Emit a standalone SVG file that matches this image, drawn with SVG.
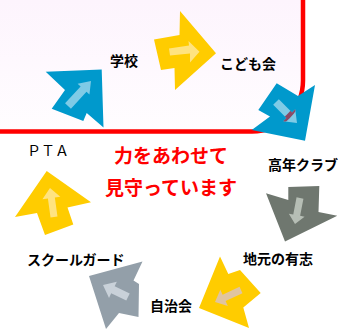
<svg xmlns="http://www.w3.org/2000/svg" width="338" height="329" viewBox="0 0 338 329">
<defs>
<linearGradient id="bg" x1="0" y1="0" x2="0" y2="1">
<stop offset="0" stop-color="#fdf4fd"/>
<stop offset="1" stop-color="#fffdff"/>
</linearGradient>
<clipPath id="innerClip">
<polygon points="273.17,104.83 286.39,118.05 283.21,121.23 297,123 295.23,109.21 292.05,112.39 278.83,99.17"/>
</clipPath>
<style>
.lbl{font-family:"Noto Sans CJK JP","Noto Sans",sans-serif;font-size:14px;font-weight:bold;fill:#000}
.msg{font-family:"Noto Sans CJK JP","Noto Sans",sans-serif;font-size:19px;font-weight:bold;fill:#ff0000}
.frame{fill:none;stroke:#ff0000;stroke-width:4.5}
.blue{fill:#0099cc}.blueIn{fill:#7fcbe6}
.yel{fill:#ffcc00}.yelIn{fill:#ffe380}
.gg{fill:#6f776f}.ggIn{fill:#b6beb5}
.tan{fill:#e0c4a0}
.gb{fill:#939fa9}.gbIn{fill:#c9d1d9}
</style>
</defs>
<rect width="338" height="329" fill="#ffffff"/>
<path d="M0,0 H303 V80.5 A51,51 0 0 1 252,131.5 H0 Z" fill="url(#bg)"/>
<path class="frame" d="M0,131.5 H252 A51,51 0 0 0 303,80.5 V0"/>

<g id="connectors">
<g id="arrow-pta-school">
<polygon class="blue" points="45.7,71.7 101.7,69.5 103.5,127.5 86.7,113 83.3,121 51.7,108.8 65,90"/>
<polygon class="blueIn" points="70.94,108.71 86.49,91.81 89.44,94.52 91,81 77.66,83.68 80.61,86.39 65.06,103.29"/>
</g>
<g id="arrow-school-kodomo">
<polygon class="yel" points="154,39.5 179.5,35 180,11 216,53.3 175,90 174.5,68 161,70"/>
<polygon class="yelIn" points="169,48.5 189,45.5 188.5,41 199.5,51.7 190,62.5 190,53.5 170,55.5"/>
</g>
<g id="arrow-kodomo-kounen">
<polygon class="blue" points="276.7,83.3 298,96 315,85 305,140.7 251.7,130 270,116.5 258.3,110"/>
<polygon class="blueIn" points="273.17,104.83 286.39,118.05 283.21,121.23 297,123 295.23,109.21 292.05,112.39 278.83,99.17"/>
<path d="M252,131.5 A51,51 0 0 0 303,80.5" fill="none" stroke="#8a4a66" stroke-width="4.5" clip-path="url(#innerClip)"/>
</g>
<g id="arrow-kounen-jimoto">
<polygon class="gg" points="288.3,187 319.3,186 318.5,212 337.3,215.7 285,241.5 266,193.3 288.3,200"/>
<polygon class="ggIn" points="296.56,197.34 293.26,214.5 288.84,213.65 295,224 304.56,216.67 300.14,215.82 303.44,198.66"/>
</g>
<g id="arrow-jimoto-jichikai">
<polygon class="yel" points="220,256.5 228.3,274 240,270 260.7,293 243.3,307.5 249,328 199,308"/>
<polygon class="tan" points="239.53,286.82 222.61,294.63 220.31,289.64 215,302 227.85,305.98 225.55,300.99 242.47,293.18"/>
</g>
<g id="arrow-jichikai-guard">
<polygon class="gb" points="89,276 142.5,261.5 133.5,280.5 139,284 138.5,317 119,313 106,329"/>
<polygon class="gbIn" points="129.73,293.39 114.65,286.15 116.82,281.64 103,285 109.02,297.88 111.19,293.37 126.27,300.61"/>
</g>
<g id="arrow-guard-pta">
<polygon class="yel" points="46.7,171 91,202.3 67.5,207.5 73.3,224.5 45,235 37,213 15,217"/>
<polygon class="yelIn" points="57.47,216.52 54.84,197.43 60.29,196.68 50,188 42.45,199.14 47.9,198.39 50.53,217.48"/>
</g>
</g>

<g id="node-school"><text class="lbl" x="110" y="66">学校</text></g>
<g id="node-kodomo"><text class="lbl" x="220" y="69">こども会</text></g>
<g id="node-kounen"><text class="lbl" x="268" y="170">高年クラブ</text></g>
<g id="node-jimoto"><text class="lbl" x="243" y="264">地元の有志</text></g>
<g id="node-jichikai"><text class="lbl" x="150" y="311">自治会</text></g>
<g id="node-guard"><text class="lbl" x="27" y="265">スクールガード</text></g>
<g id="node-pta"><text class="lbl" x="27" y="156" style="font-weight:normal">ＰＴＡ</text></g>
<g id="message">
<text class="msg" x="171" y="163" text-anchor="middle">力をあわせて</text>
<text class="msg" x="171" y="195" text-anchor="middle">見守っています</text>
</g>
</svg>
